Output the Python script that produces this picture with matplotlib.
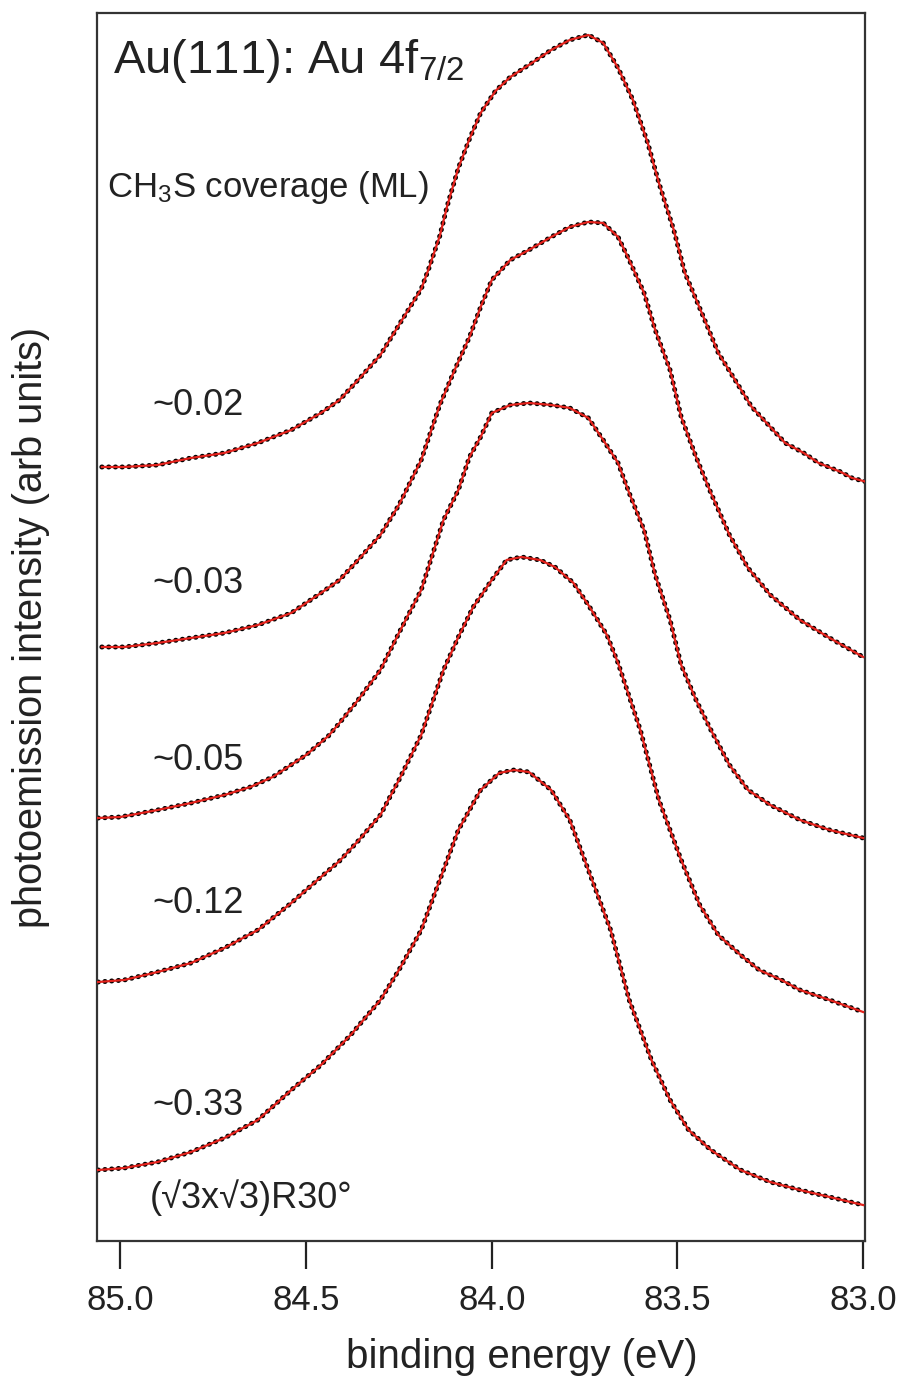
import matplotlib
matplotlib.use("Agg")
import matplotlib.pyplot as plt

plt.rcParams['font.family'] = ['Liberation Sans', 'DejaVu Sans']
plt.rcParams['mathtext.fontset'] = 'custom'
plt.rcParams['mathtext.rm'] = 'Liberation Sans'
plt.rcParams['mathtext.it'] = 'Liberation Sans'

# ---- data (binding energy in eV, intensity in arbitrary units incl. offsets) ----
coverages = ["~0.02", "~0.03", "~0.05", "~0.12", "~0.33"]

E_002 = [85.05, 84.99, 84.90, 84.81, 84.72, 84.63, 84.54, 84.46, 84.41, 84.36, 84.30, 84.25,
         84.19, 84.17, 84.14, 84.12, 84.09, 84.06, 84.03, 83.99, 83.95, 83.90, 83.84, 83.79,
         83.74, 83.70, 83.66, 83.62, 83.58, 83.55, 83.51, 83.48, 83.43, 83.39, 83.34, 83.30,
         83.25, 83.21, 83.16, 83.12, 83.06, 83.03, 82.99]
I_002 = [774, 774, 776, 783, 788, 798, 811, 828, 841, 861, 886, 916,
         952, 972, 1005, 1035, 1073, 1102, 1128, 1150, 1164, 1176, 1191, 1201,
         1206, 1198, 1173, 1141, 1098, 1058, 1011, 968, 924, 888, 858, 834,
         814, 798, 788, 778, 769, 763, 759]

E_003 = [85.05, 84.99, 84.90, 84.81, 84.72, 84.63, 84.54, 84.46, 84.41, 84.36, 84.30, 84.25,
         84.19, 84.14, 84.10, 84.06, 84.03, 84.00, 83.95, 83.90, 83.84, 83.79, 83.74, 83.70,
         83.66, 83.63, 83.59, 83.56, 83.52, 83.49, 83.45, 83.41, 83.36, 83.31, 83.25, 83.17,
         83.09, 83.00]
I_003 = [594, 594, 598, 603, 608, 616, 628, 648, 661, 681, 706, 736,
         781, 836, 871, 904, 934, 961, 981, 991, 1004, 1014, 1019, 1018,
         1004, 981, 948, 911, 871, 824, 784, 748, 706, 673, 646, 621,
         603, 584]

E_005 = [85.06, 85.00, 84.90, 84.81, 84.72, 84.65, 84.59, 84.50, 84.44, 84.41, 84.36, 84.30,
         84.25, 84.19, 84.13, 84.09, 84.06, 84.03, 84.00, 83.95, 83.90, 83.84, 83.79, 83.74,
         83.70, 83.66, 83.63, 83.59, 83.56, 83.52, 83.49, 83.45, 83.41, 83.36, 83.31, 83.25,
         83.17, 83.09, 83.00]
I_005 = [423, 424, 431, 438, 446, 454, 464, 486, 505, 518, 541, 571,
         608, 651, 721, 751, 784, 804, 828, 836, 838, 836, 833, 823,
         801, 778, 748, 711, 666, 621, 576, 541, 511, 476, 451, 436,
         421, 411, 403]

E_012 = [85.06, 84.99, 84.90, 84.81, 84.72, 84.63, 84.54, 84.46, 84.41, 84.36, 84.30, 84.25,
         84.19, 84.13, 84.09, 84.05, 84.00, 83.96, 83.92, 83.87, 83.83, 83.78, 83.74, 83.69,
         83.66, 83.60, 83.55, 83.49, 83.44, 83.39, 83.33, 83.28, 83.22, 83.17, 83.09, 83.00]
I_012 = [259, 261, 269, 278, 293, 311, 338, 364, 380, 400, 426, 461,
         506, 571, 604, 634, 661, 681, 684, 681, 674, 658, 636, 606,
         578, 511, 441, 381, 336, 306, 286, 271, 261, 251, 241, 229]

E_033 = [85.06, 84.99, 84.90, 84.81, 84.72, 84.63, 84.54, 84.46, 84.38, 84.30, 84.25, 84.19,
         84.14, 84.09, 84.03, 83.98, 83.94, 83.90, 83.84, 83.79, 83.74, 83.68, 83.63, 83.57,
         83.52, 83.47, 83.41, 83.33, 83.25, 83.17, 83.09, 83.00]
I_033 = [71, 73, 79, 89, 103, 121, 151, 176, 206, 241, 271, 311,
         361, 411, 451, 468, 471, 469, 451, 421, 371, 311, 241, 181,
         141, 111, 91, 71, 59, 51, 44, 36]

series = [(E_002, I_002), (E_003, I_003), (E_005, I_005), (E_012, I_012), (E_033, I_033)]
label_y = [826, 648, 471, 328, 126]   # label baselines (same units)

xticks = [85.0, 84.5, 84.0, 83.5, 83.0]
xticklabels = ["85.0", "84.5", "84.0", "83.5", "83.0"]

RED = "#e3221c"
TXT = "#222222"

fig = plt.figure(figsize=(8.99, 13.78), dpi=100)
ax = fig.add_axes([0.1079, 0.0994, 0.8543, 0.8912])

for E, I in series:
    ax.plot(E, I, color="black", lw=3.6, ls=(0, (0.05, 1.3)),
            dash_capstyle="round", zorder=2)
    ax.plot(E, I, color=RED, lw=1.6, zorder=3, solid_joinstyle="round")

ax.set_xlim(85.063, 82.995)
ax.set_ylim(0, 1228)
ax.set_yticks([])
ax.set_xticks(xticks)
ax.set_xticklabels(xticklabels, fontsize=25)
ax.tick_params(axis="x", direction="out", length=20, width=1.6, pad=11, colors="#222222",
               labelcolor=TXT)
for s in ax.spines.values():
    s.set_linewidth(1.6)
    s.set_color("#333333")

ax.set_xlabel("binding energy (eV)", fontsize=29, color=TXT, labelpad=16)
ax.xaxis.set_label_coords(0.553, -0.079)
ax.set_ylabel("photoemission intensity (arb units)", fontsize=28.5, color=TXT, labelpad=34)

ax.text(85.02, 1168, r"Au(111): Au 4f$_{7/2}$", fontsize=34, color=TXT, ha="left",
        va="baseline")
ax.text(85.036, 1044, r"CH$_3$S coverage (ML)", fontsize=25, color=TXT, ha="left",
        va="baseline")
for lab, ly in zip(coverages, label_y):
    ax.text(84.915, ly, lab, fontsize=26, color=TXT, ha="left", va="baseline")
ax.text(84.92, 33, "(\u221a3x\u221a3)R30\u00b0", fontsize=26, color=TXT, ha="left",
        va="baseline")

fig.savefig("out.png", dpi=100)
